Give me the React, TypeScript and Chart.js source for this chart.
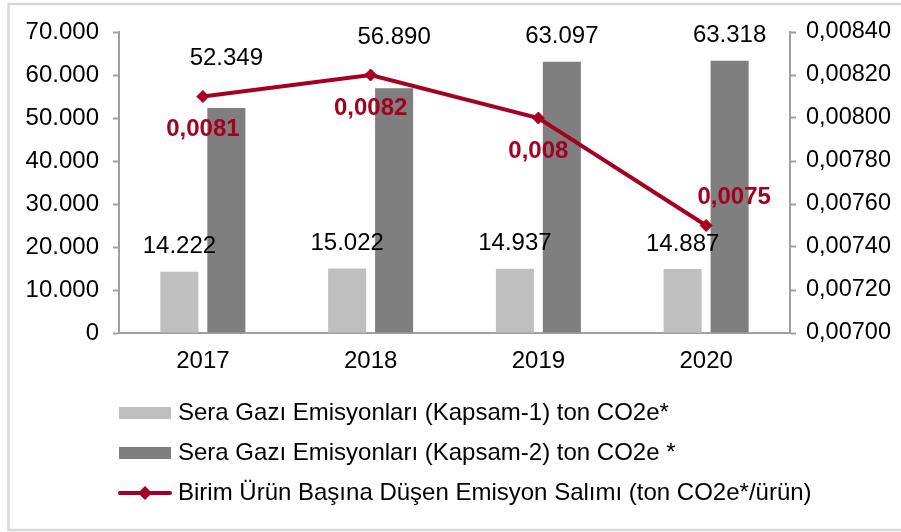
import React, { useEffect, useRef } from 'react';
import { Chart, registerables } from 'chart.js';

Chart.register(...registerables);

// ---- data ----
const categories = ['2017', '2018', '2019', '2020'];
const kapsam1Values = [14222, 15022, 14937, 14887];
const kapsam2Values = [52349, 56890, 63097, 63318];
const birimValues = [0.0081, 0.0082, 0.008, 0.0075];
const seriesLabels = [
  'Sera Gazı Emisyonları (Kapsam-1) ton CO2e*',
  'Sera Gazı Emisyonları (Kapsam-2) ton CO2e *',
  'Birim Ürün Başına Düşen Emisyon Salımı (ton CO2e*/ürün)',
];
const leftAxisMin = 0;
const leftAxisMax = 70000;
const leftAxisStep = 10000;
const rightAxisMin = 0.007;
const rightAxisMax = 0.0084;
const rightAxisStep = 0.0002;

// ---- styles ----
const FONT = '"Liberation Sans", Arial, sans-serif';
const LIGHT = '#bfbfbf';
const DARK = '#7f7f7f';
const RED = '#a50021';
const AXIS = '#a0a0a0';
const FONT_SIZE = 24;

const fmtThousands = (v: number) =>
  Math.round(v).toString().replace(/\B(?=(\d{3})+(?!\d))/g, '.');
const fmtRight = (v: number) => Number(v).toFixed(5).replace('.', ',');
const fmtDecimal = (v: number) => String(v).replace('.', ',');

function makeSwatch(color: string): HTMLCanvasElement {
  const c = document.createElement('canvas');
  c.width = 52;
  c.height = 12;
  const g = c.getContext('2d')!;
  g.fillStyle = color;
  g.fillRect(0, 0, 52, 12);
  return c;
}

function makeLineSwatch(color: string): HTMLCanvasElement {
  const c = document.createElement('canvas');
  c.width = 54;
  c.height = 16;
  const g = c.getContext('2d')!;
  g.strokeStyle = color;
  g.lineWidth = 4;
  g.lineCap = 'round';
  g.beginPath();
  g.moveTo(2, 8);
  g.lineTo(52, 8);
  g.stroke();
  g.fillStyle = color;
  g.beginPath();
  g.moveTo(27, 1);
  g.lineTo(34, 8);
  g.lineTo(27, 15);
  g.lineTo(20, 8);
  g.closePath();
  g.fill();
  return c;
}

const frameAndLegendPlugin = {
  id: 'frameAndLegend',
  beforeDraw(chart: any) {
    const ctx = chart.ctx;
    ctx.save();
    ctx.fillStyle = '#ffffff';
    ctx.fillRect(0, 0, chart.width, chart.height);
    ctx.strokeStyle = '#d9d9d9';
    ctx.lineWidth = 2.5;
    ctx.strokeRect(8.5, 4, chart.width + 10, 526);
    ctx.restore();
    if (chart.legend) {
      chart.legend.left = 108;
      chart.legend.top = 385;
    }
  },
};

const dataLabelPlugin = {
  id: 'dataLabels',
  afterDatasetsDraw(chart: any) {
    const ctx = chart.ctx;
    const lineMeta = chart.getDatasetMeta(2);
    ctx.save();
    ctx.textAlign = 'center';
    ctx.textBaseline = 'middle';
    ctx.font = `${FONT_SIZE}px ${FONT}`;
    ctx.fillStyle = '#000000';
    [0, 1].forEach((di) => {
      const meta = chart.getDatasetMeta(di);
      const vals = chart.data.datasets[di].data as number[];
      meta.data.forEach((el: any, j: number) => {
        let y = el.y - 25;
        const lp = lineMeta.data[j];
        if (lp && Math.abs(y - lp.y) < 16) y = lp.y - 38;
        ctx.fillText(fmtThousands(vals[j]), el.x, y);
      });
    });
    ctx.font = `bold ${FONT_SIZE}px ${FONT}`;
    ctx.fillStyle = RED;
    const lvals = chart.data.datasets[2].data as number[];
    lineMeta.data.forEach((el: any, j: number) => {
      const last = j === lineMeta.data.length - 1;
      const x = last ? el.x + 28 : el.x;
      const y = last ? el.y - 28 : el.y + 33;
      ctx.fillText(fmtDecimal(lvals[j]), x, y);
    });
    ctx.restore();
  },
};

export default function App() {
  const canvasRef = useRef<HTMLCanvasElement | null>(null);

  useEffect(() => {
    document.body.style.margin = '0';
    const canvas = canvasRef.current;
    if (!canvas) return;
    Chart.defaults.font.family = FONT;
    const swatches = [makeSwatch(LIGHT), makeSwatch(DARK), makeLineSwatch(RED)];

    const chart = new Chart(canvas, {
      type: 'bar',
      data: {
        labels: categories,
        datasets: [
          {
            type: 'bar',
            label: seriesLabels[0],
            data: kapsam1Values,
            backgroundColor: LIGHT,
            borderWidth: 0,
            categoryPercentage: 0.56,
            barPercentage: 0.81,
            yAxisID: 'y',
            order: 1,
          },
          {
            type: 'bar',
            label: seriesLabels[1],
            data: kapsam2Values,
            backgroundColor: DARK,
            borderWidth: 0,
            categoryPercentage: 0.56,
            barPercentage: 0.81,
            yAxisID: 'y',
            order: 1,
          },
          {
            type: 'line',
            label: seriesLabels[2],
            data: birimValues,
            borderColor: RED,
            backgroundColor: RED,
            borderWidth: 4,
            pointStyle: 'rectRot',
            pointRadius: 6,
            pointBackgroundColor: RED,
            pointBorderColor: RED,
            pointBorderWidth: 1,
            tension: 0,
            yAxisID: 'y1',
            order: 0,
          },
        ],
      } as any,
      options: {
        animation: false,
        responsive: true,
        maintainAspectRatio: false,
        layout: { padding: { top: 32, left: 8, right: 8, bottom: 0 } },
        plugins: {
          tooltip: { enabled: false },
          legend: {
            position: 'bottom',
            align: 'start',
            labels: {
              usePointStyle: true,
              pointStyleWidth: 42,
              padding: 16,
              color: '#000000',
              font: { size: 24, family: FONT },
              generateLabels: (ch: any) =>
                ch.data.datasets.map((ds: any, i: number) => ({
                  text: ds.label,
                  datasetIndex: i,
                  pointStyle: swatches[i],
                  fillStyle: 'rgba(0,0,0,0)',
                  strokeStyle: 'rgba(0,0,0,0)',
                  lineWidth: 0,
                  hidden: false,
                  fontColor: '#000000',
                })),
              sort: (a: any, b: any) => a.datasetIndex - b.datasetIndex,
            },
          },
        },
        scales: {
          x: {
            grid: { display: false },
            border: { display: true, color: AXIS, width: 2 },
            ticks: { color: '#000000', font: { size: FONT_SIZE }, padding: 6 },
            afterFit: (scale: any) => {
              const lh = scale.chart.legend ? scale.chart.legend.height : 126;
              scale.height = scale.chart.height - lh - 333;
            },
          },
          y: {
            position: 'left',
            min: leftAxisMin,
            max: leftAxisMax,
            grid: {
              display: true,
              drawOnChartArea: false,
              drawTicks: true,
              tickLength: 6,
              tickColor: AXIS,
              tickWidth: 2,
            },
            border: { display: true, color: AXIS, width: 2 },
            ticks: {
              stepSize: leftAxisStep,
              color: '#000000',
              font: { size: FONT_SIZE },
              padding: 14,
              callback: (v: any) => fmtThousands(Number(v)),
            },
            afterFit: (scale: any) => {
              scale.width = 111;
            },
          },
          y1: {
            position: 'right',
            min: rightAxisMin,
            max: rightAxisMax,
            grid: {
              display: true,
              drawOnChartArea: false,
              drawTicks: true,
              tickLength: 6,
              tickColor: AXIS,
              tickWidth: 2,
            },
            border: { display: true, color: AXIS, width: 2 },
            ticks: {
              stepSize: rightAxisStep,
              color: '#000000',
              font: { size: 23.5 },
              padding: 10,
              callback: (v: any) => fmtRight(Number(v)),
            },
            afterFit: (scale: any) => {
              scale.width = 103;
            },
          },
        },
      } as any,
      plugins: [frameAndLegendPlugin, dataLabelPlugin],
    });

    return () => chart.destroy();
  }, []);

  return (
    <div style={{ position: 'relative', width: '901px', height: '532px' }}>
      <canvas ref={canvasRef} />
    </div>
  );
}
